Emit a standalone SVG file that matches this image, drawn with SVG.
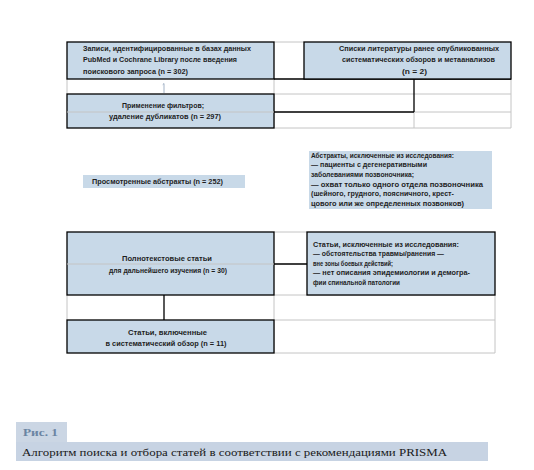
<svg xmlns="http://www.w3.org/2000/svg" width="534" height="470" viewBox="0 0 534 470">
<style>
.box{fill:#c8d9e8;stroke:#000;stroke-width:1.3}
.t{font-family:"Liberation Sans","Noto Sans",sans-serif;font-weight:bold;font-size:7px;fill:#1e1e1e}
.c{text-anchor:middle}
.g{stroke:#c4c4c4;stroke-width:1;fill:none}
.k{stroke:#000;stroke-width:1.3;fill:none}
.cap{font-family:"Liberation Serif","DejaVu Serif",serif}
</style>
<rect width="534" height="470" fill="#fff"/>
<g id="connectors">
<path class="g" d="M274 42H304M67 79V94M274 79V128M274 94H511M414 112V128M414 112H511M274 128H511M511 79V128M67 112H274"/>
<path class="k" d="M274 79H511M414 79V112M274 112H414"/>
<path d="M164 93V83.5l-1.3 1.2" stroke="#8a9fb8" stroke-width="0.8" fill="none"/>
<path class="g" d="M274 232H307M67 264H274M67 295V320M274 295V353M274 295H495M274 320H495M274 353H495M495 295V353"/>
<path class="k" d="M274 264H307M164 295V320"/>
</g>
<g id="records">
<rect class="box" x="67" y="42" width="207" height="37"/>
<text class="t" x="83" y="50.5" textLength="168" lengthAdjust="spacingAndGlyphs">Записи, идентифицированные в базах данных</text>
<text class="t" x="83" y="62" textLength="154" lengthAdjust="spacingAndGlyphs">PubMed и Cochrane Library после введения</text>
<text class="t" x="83" y="73.5" textLength="105" lengthAdjust="spacingAndGlyphs">поискового запроса (n = 302)</text>
</g>
<g id="references">
<rect class="box" x="304" y="42" width="207" height="37"/>
<text class="t c" x="419" y="51" textLength="160" lengthAdjust="spacingAndGlyphs">Списки литературы ранее опубликованных</text>
<text class="t c" x="418.5" y="62" textLength="153" lengthAdjust="spacingAndGlyphs">систематических обзоров и метаанализов</text>
<text class="t c" x="414.5" y="74" textLength="25" lengthAdjust="spacingAndGlyphs">(n = 2)</text>
</g>
<g id="filters">
<rect class="box" x="67" y="94" width="207" height="34"/>
<line class="g" x1="67" y1="112" x2="274" y2="112"/>
<text class="t c" x="163" y="108" textLength="82" lengthAdjust="spacingAndGlyphs">Применение фильтров;</text>
<text class="t c" x="165" y="119" textLength="112" lengthAdjust="spacingAndGlyphs">удаление дубликатов (n = 297)</text>
</g>
<g id="abstracts">
<rect x="83" y="175" width="162" height="13" fill="#c8d9e8"/>
<text class="t" x="92" y="184" textLength="131" lengthAdjust="spacingAndGlyphs">Просмотренные абстракты (n = 252)</text>
</g>
<g id="abstracts-excluded">
<rect x="309" y="151" width="183" height="58" fill="#c8d9e8"/>
<text class="t" x="311" y="157.5" textLength="143" lengthAdjust="spacingAndGlyphs">Абстракты, исключенные из исследования:</text>
<text class="t" x="311" y="167.2" textLength="116" lengthAdjust="spacingAndGlyphs">— пациенты с дегенеративными</text>
<text class="t" x="311" y="176.9" textLength="103" lengthAdjust="spacingAndGlyphs">заболеваниями позвоночника;</text>
<text class="t" x="311" y="186.6" textLength="172" lengthAdjust="spacingAndGlyphs">— охват только одного отдела позвоночника</text>
<text class="t" x="311" y="196.3" textLength="143" lengthAdjust="spacingAndGlyphs">(шейного, грудного, поясничного, крест-</text>
<text class="t" x="311" y="206" textLength="153" lengthAdjust="spacingAndGlyphs">цового или же определенных позвонков)</text>
</g>
<g id="fulltext">
<rect class="box" x="67" y="232" width="207" height="63"/>
<line class="g" x1="67" y1="264" x2="274" y2="264"/>
<text class="t c" x="167" y="260.5" textLength="90" lengthAdjust="spacingAndGlyphs">Полнотекстовые статьи</text>
<text class="t c" x="168" y="272.5" textLength="118" lengthAdjust="spacingAndGlyphs">для дальнейшего изучения (n = 30)</text>
</g>
<g id="fulltext-excluded">
<rect class="box" x="307" y="232" width="188" height="63"/>
<text class="t" x="313" y="246.5" textLength="146" lengthAdjust="spacingAndGlyphs">Статьи, исключенные из исследования:</text>
<text class="t" x="313" y="256" textLength="131" lengthAdjust="spacingAndGlyphs">— обстоятельства травмы/ранения —</text>
<text class="t" x="313" y="265.5" textLength="80" lengthAdjust="spacingAndGlyphs">вне зоны боевых действий;</text>
<text class="t" x="313" y="275" textLength="157" lengthAdjust="spacingAndGlyphs">— нет описания эпидемиологии и демогра-</text>
<text class="t" x="313" y="285" textLength="87" lengthAdjust="spacingAndGlyphs">фии спинальной патологии</text>
</g>
<g id="included">
<rect class="box" x="67" y="320" width="207" height="33"/>
<text class="t c" x="167.5" y="334.5" textLength="79" lengthAdjust="spacingAndGlyphs">Статьи, включенные</text>
<text class="t c" x="166" y="345.5" textLength="121" lengthAdjust="spacingAndGlyphs">в систематический обзор (n = 11)</text>
</g>
<g id="caption">
<rect x="16" y="422" width="51" height="20" fill="#cbd6e4"/>
<text class="cap" x="23" y="435.5" font-size="11" font-weight="bold" fill="#6a84a2" textLength="35" lengthAdjust="spacingAndGlyphs">Рис. 1</text>
<rect x="16" y="442" width="472" height="19" fill="#c7d3e3"/>
<text class="cap" x="22" y="455.5" font-size="10.5" fill="#1a1a1a" textLength="425" lengthAdjust="spacingAndGlyphs">Алгоритм поиска и отбора статей в соответствии с рекомендациями PRISMA</text>
</g>
</svg>
